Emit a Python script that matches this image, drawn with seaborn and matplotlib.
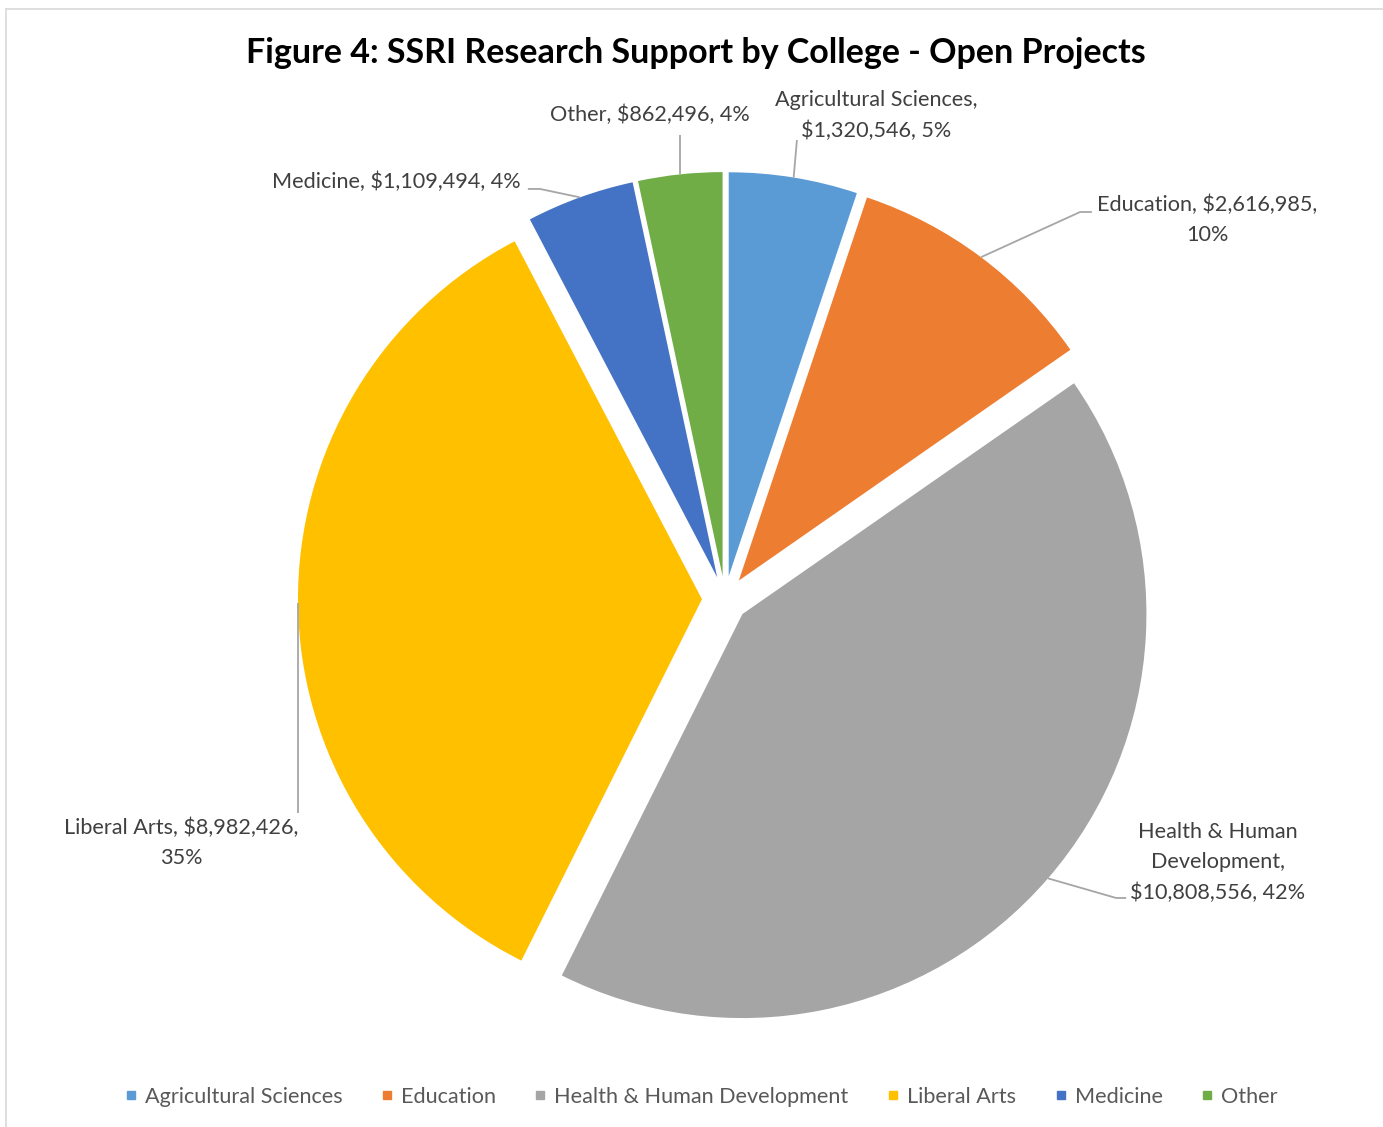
import matplotlib
matplotlib.use('Agg')
import numpy as np
import matplotlib.pyplot as plt
from matplotlib.lines import Line2D
import seaborn as sns

# data
colleges = ['Agricultural Sciences', 'Education', 'Health & Human Development',
            'Liberal Arts', 'Medicine', 'Other']
amounts = [1320546, 2616985, 10808556, 8982426, 1109494, 862496]
percents = ['5%', '10%', '42%', '35%', '4%', '4%']
label_texts = ['Agricultural Sciences,\n$1,320,546, 5%',
               'Education, $2,616,985,\n10%',
               'Health & Human\nDevelopment,\n$10,808,556, 42%',
               'Liberal Arts, $8,982,426,\n35%',
               'Medicine, $1,109,494, 4%',
               'Other, $862,496, 4%']
colors = ['#5B9BD5', '#ED7D31', '#A5A5A5', '#FFC000', '#4472C4', '#70AD47']

# label placement (pie radius = 1)
label_pos = [(0.374, 1.196), (1.193, 0.938), (1.220, -0.653),
             (-1.347, -0.604), (-0.814, 1.032), (-0.186, 1.198)]
leader_pts = [[(0.178, 1.136)],
              [(0.879, 0.958), (0.908, 0.958)],
              [(0.968, -0.740), (0.993, -0.740)],
              [(None, -0.530)],
              [(-0.458, 1.015), (-0.488, 1.015)],
              [(None, 1.149)]]

sns.set_theme(style='white')
plt.rcParams['font.family'] = ['Lato', 'DejaVu Sans']

fig = plt.figure(figsize=(13.83, 11.27), dpi=100)
ax = fig.add_axes([0, 0, 1, 1])
explode = 0.057
wedges, _ = ax.pie(amounts, colors=sns.color_palette(colors), startangle=90,
                   counterclock=False, explode=[explode] * len(amounts),
                   radius=1.0, wedgeprops=dict(linewidth=0))
ax.set_xlim(-1.7946, 1.6287)
ax.set_ylim(-1.3069, 1.4827)
ax.set_aspect('equal')
ax.axis('off')

for w, txt, pos, pts in zip(wedges, label_texts, label_pos, leader_pts):
    ang = np.deg2rad((w.theta1 + w.theta2) / 2)
    cx, cy = w.center
    ax0, ay0 = cx + w.r * np.cos(ang), cy + w.r * np.sin(ang)
    xs, ys = [ax0], [ay0]
    for px, py in pts:
        xs.append(ax0 if px is None else px)
        ys.append(py)
    ax.plot(xs, ys, color='#A6A6A6', lw=1.3, solid_capstyle='butt')
    ax.text(pos[0], pos[1], txt, ha='center', va='center', fontsize=15.6,
            color='#404040', linespacing=1.65)

fig.text(696 / 1383, 1 - 53 / 1127,
         'Figure 4: SSRI Research Support by College - Open Projects',
         ha='center', va='center', fontsize=24.5, fontweight='bold', color='black')

handles = [Line2D([], [], marker='s', ls='', color=c, markersize=6) for c in colors]
fig.legend(handles, colleges, loc='center', bbox_to_anchor=(701 / 1383, 1 - 1097 / 1127),
           ncol=6, frameon=False, fontsize=15.6, handlelength=0.6, handletextpad=0.35,
           columnspacing=1.75, labelcolor='#595959')

# chart border (top and left edges visible)
fig.add_artist(Line2D([6 / 1383, 6 / 1383], [0, 1 - 9 / 1127], color='#D9D9D9', lw=1.2))
fig.add_artist(Line2D([6 / 1383, 1], [1 - 9 / 1127, 1 - 9 / 1127], color='#D9D9D9', lw=1.2))

fig.savefig('out.png', dpi=100)
